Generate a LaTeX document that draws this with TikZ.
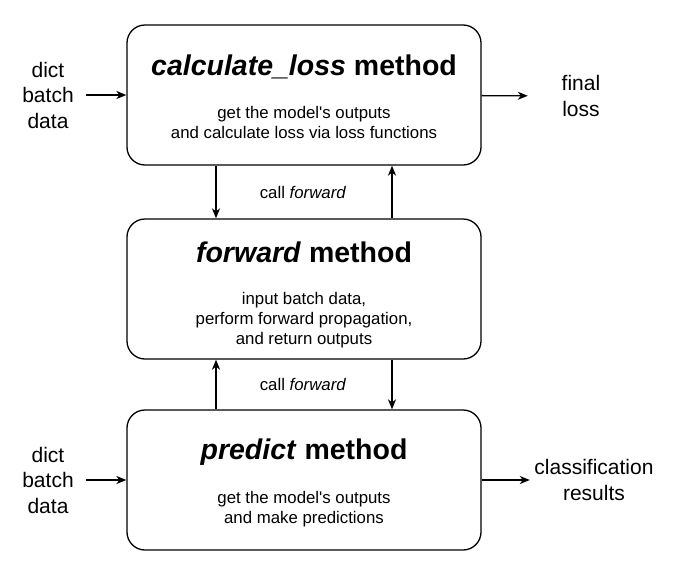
\documentclass[tikz,border=0pt]{standalone}
\usepackage{fontspec}
\setmainfont{Liberation Sans}
\usepackage{tikz}
\usetikzlibrary{arrows.meta,positioning}

\begin{document}
\begin{tikzpicture}[x=1pt, y=-1pt,
  methodbox/.style={rectangle, draw=black, rounded corners=18pt, line width=1.3pt,
    minimum width=354pt, minimum height=140pt, inner sep=0pt},
  titletext/.style={font=\fontsize{28.5}{34}\selectfont\bfseries, inner sep=0pt},
  desctext/.style={font=\fontsize{16.8}{20}\selectfont, align=center, inner sep=0pt},
  sidetext/.style={font=\fontsize{21}{25.5}\selectfont, align=center, inner sep=0pt},
  calltext/.style={font=\fontsize{16.8}{20}\selectfont, inner sep=0pt},
  arr/.style={-{Stealth[length=10pt, width=8pt, inset=3pt]}, line width=1.3pt}
]

\useasboundingbox (0,0) rectangle (691,576);

\node[methodbox] (lossbox) at (304,95) {};
\node[methodbox] (fwdbox) at (304,289) {};
\node[methodbox] (predbox) at (304,480) {};

\node[titletext] (losstitle) at (304,67) {\textit{calculate\_loss} method};
\node[desctext] (lossdesc) at (304,122.5) {get the model\textquotesingle s outputs\\and calculate loss via loss functions};

\node[titletext] (fwdtitle) at (304,252) {\textit{forward} method};
\node[desctext] (fwddesc) at (304,320) {input batch data,\\perform forward propagation,\\and return outputs};

\node[titletext] (predtitle) at (304,452) {\textit{predict} method};
\node[desctext] (preddesc) at (304,509) {get the model\textquotesingle s outputs\\and make predictions};

\node[sidetext, minimum width=76pt] (in1) at (48,95) {dict\\batch\\data};
\node[sidetext, minimum width=106pt] (out1) at (581,96) {final\\loss};
\node[sidetext, minimum width=76pt] (in2) at (48,480) {dict\\batch\\data};
\node[sidetext, minimum width=128pt] (out2) at (594,480) {classification\\results};

\node[calltext] (call1) at (303,192) {call \textit{forward}};
\node[calltext] (call2) at (303,384.5) {call \textit{forward}};

\draw[arr] (in1) -- (lossbox);
\draw[arr] (lossbox) -- (out1);
\draw[arr] ([xshift=-88pt]lossbox.south) -- ([xshift=-88pt]fwdbox.north);
\draw[arr] ([xshift=88pt]fwdbox.north) -- ([xshift=88pt]lossbox.south);
\draw[arr] ([xshift=-88pt]predbox.north) -- ([xshift=-88pt]fwdbox.south);
\draw[arr] ([xshift=88pt]fwdbox.south) -- ([xshift=88pt]predbox.north);
\draw[arr] (in2) -- (predbox);
\draw[arr] (predbox) -- (out2);

\end{tikzpicture}
\end{document}
